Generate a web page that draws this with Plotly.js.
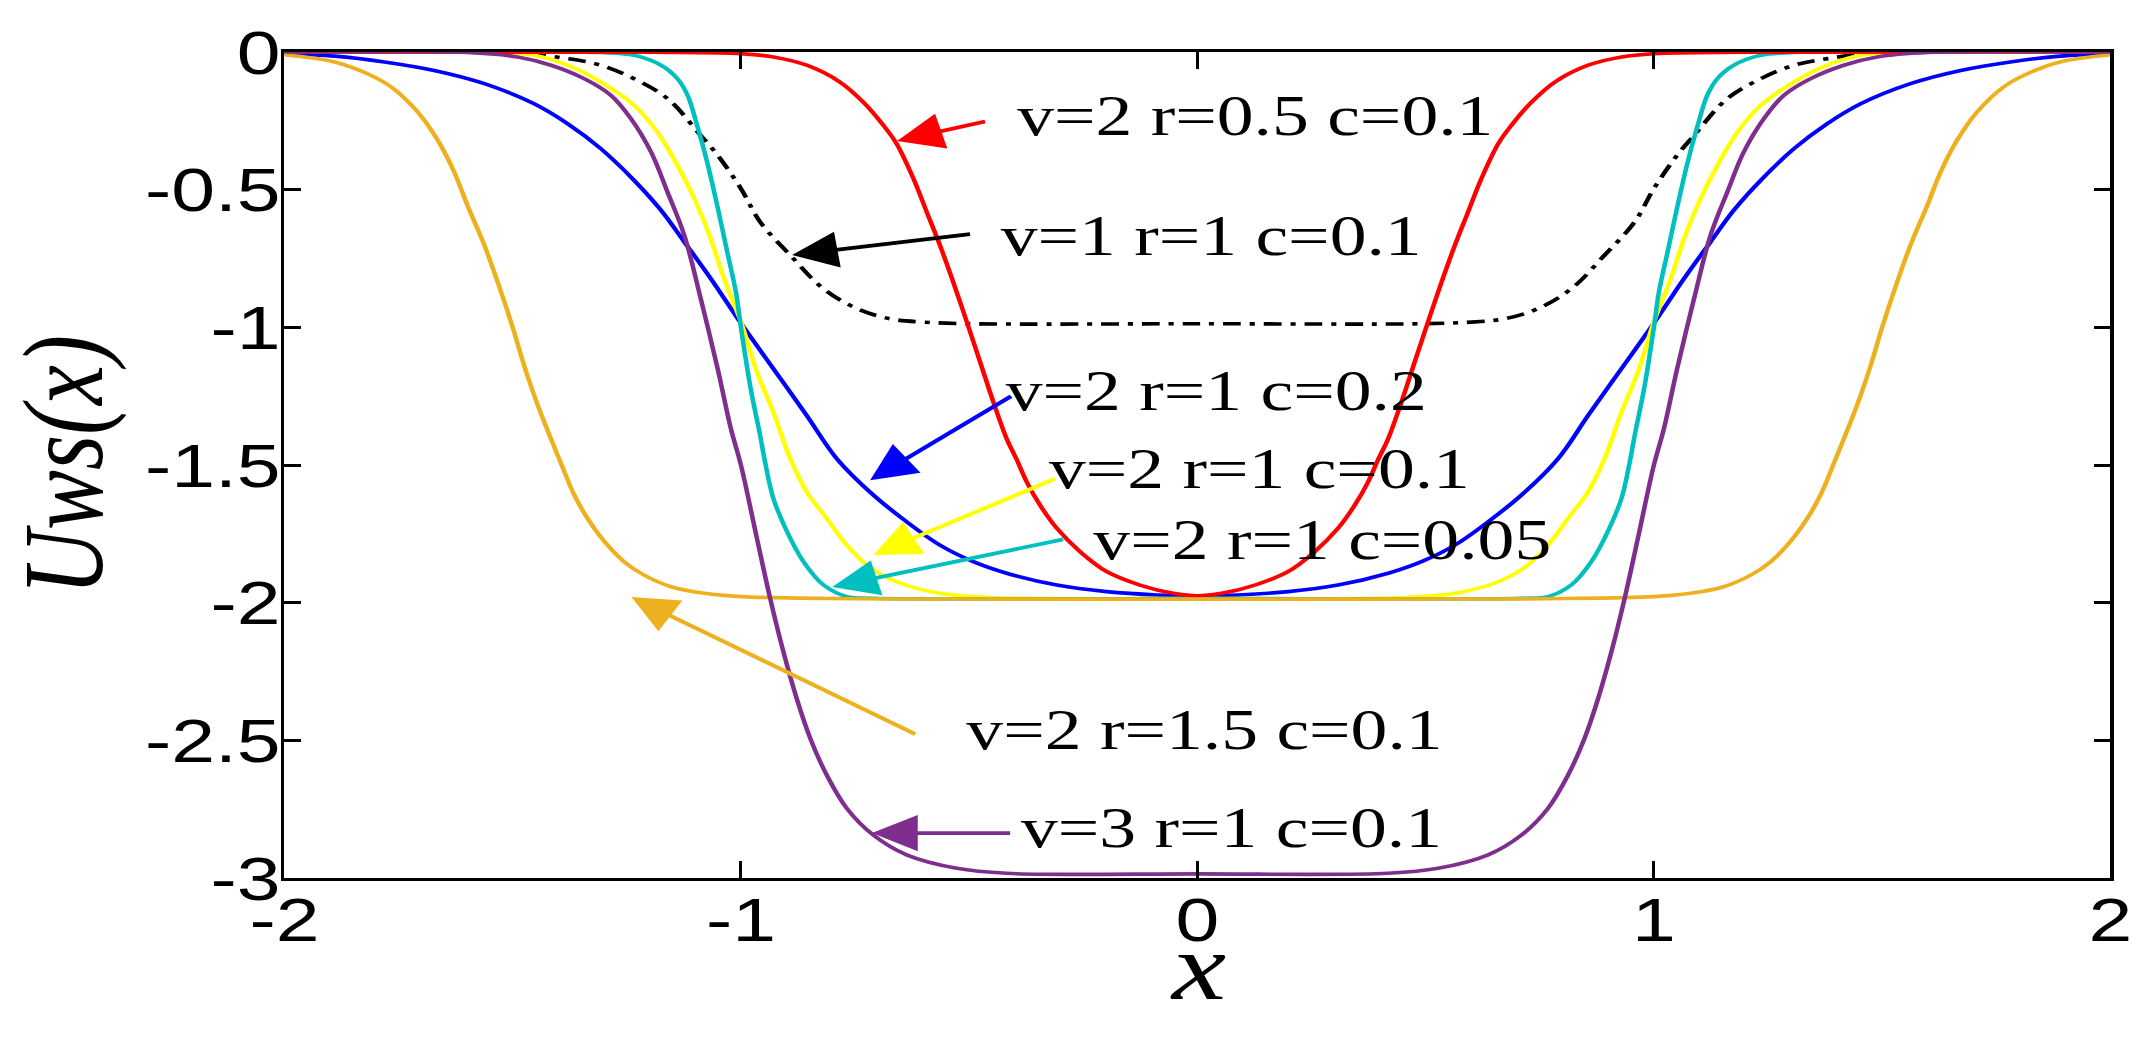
<!DOCTYPE html>
<html>
<head>
<meta charset="utf-8">
<script src="https://cdn.plot.ly/plotly-3.0.1.min.js"></script>
<style>
  html, body { margin: 0; padding: 0; background: #ffffff; }
  #wrap { width: 2151px; height: 1050px; overflow: hidden; position: relative; }
  #plot { width: 1694px; height: 1050px; transform: scaleX(1.26978); transform-origin: 0 0; }
</style>
</head>
<body>
<div id="wrap"><div id="plot"></div></div>
<script>
// ---------- data ----------
const xTickVals = [-2, -1, 0, 1, 2];
const xTickText = ['-2', '-1', '0', '1', '2'];
const yTickVals = [0, -0.5, -1, -1.5, -2, -2.5, -3];
const yTickText = ['0', '-0.5', '-1', '-1.5', '-2', '-2.5', '-3'];
const xTitle = 'x';
const yTitle = 'Uws(x)';

// v=1 r=1 c=0.1 (black dash-dot)
const blackX = [-2,-1.489,-1.38,-1.307,-1.234,-1.161,-1.088,-1.051,-1.0,-0.958,-0.892,-0.819,-0.746,-0.673,-0.6,-0.491,0,
                0.491,0.6,0.673,0.746,0.819,0.892,0.958,1.0,1.051,1.088,1.161,1.234,1.307,1.38,1.489,2];
const blackY = [0,-0.004,-0.024,-0.048,-0.097,-0.169,-0.303,-0.375,-0.496,-0.617,-0.738,-0.86,-0.932,-0.969,-0.981,-0.987,-0.987,
                -0.987,-0.981,-0.969,-0.932,-0.86,-0.738,-0.617,-0.496,-0.375,-0.303,-0.169,-0.097,-0.048,-0.024,-0.004,0];

// v=2 r=1 c=0.2 (blue)
const blueX = [-2,-1.89,-1.781,-1.672,-1.562,-1.453,-1.38,-1.307,-1.234,-1.175,-1.124,-1.066,-1.0,-0.929,-0.856,-0.79,-0.71,-0.637,-0.564,-0.491,-0.418,-0.308,-0.199,-0.089,0,
               0.089,0.199,0.308,0.418,0.491,0.564,0.637,0.71,0.79,0.856,0.929,1.0,1.066,1.124,1.175,1.234,1.307,1.38,1.453,1.562,1.672,1.781,1.89,2];
const blueY = [-0.006,-0.015,-0.036,-0.067,-0.115,-0.188,-0.26,-0.351,-0.466,-0.575,-0.69,-0.823,-0.985,-1.15,-1.32,-1.477,-1.609,-1.706,-1.791,-1.851,-1.893,-1.936,-1.96,-1.972,-1.975,
               -1.972,-1.96,-1.936,-1.893,-1.851,-1.791,-1.706,-1.609,-1.477,-1.32,-1.15,-0.985,-0.823,-0.69,-0.575,-0.466,-0.351,-0.26,-0.188,-0.115,-0.067,-0.036,-0.015,-0.006];

// v=2 r=1 c=0.1 (yellow)
const yellowX = [-2,-1.526,-1.453,-1.38,-1.307,-1.234,-1.183,-1.139,-1.102,-1.066,-1.037,-1.0,-0.965,-0.929,-0.892,-0.856,-0.812,-0.768,-0.724,-0.659,-0.564,-0.454,0,
                 0.454,0.564,0.659,0.724,0.768,0.812,0.856,0.892,0.929,0.965,1.0,1.037,1.066,1.102,1.139,1.183,1.234,1.307,1.38,1.453,1.526,2];
const yellowY = [0,-0.002,-0.012,-0.048,-0.109,-0.194,-0.291,-0.412,-0.533,-0.678,-0.823,-0.98,-1.162,-1.308,-1.477,-1.597,-1.694,-1.791,-1.863,-1.924,-1.966,-1.981,-1.985,
                 -1.981,-1.966,-1.924,-1.863,-1.791,-1.694,-1.597,-1.477,-1.308,-1.162,-0.98,-0.823,-0.678,-0.533,-0.412,-0.291,-0.194,-0.109,-0.048,-0.012,-0.002,0];

// v=2 r=1 c=0.05 (cyan)
const cyanX = [-2,-1.307,-1.234,-1.175,-1.139,-1.117,-1.096,-1.074,-1.052,-1.03,-1.011,-1.0,-0.98,-0.958,-0.947,-0.929,-0.899,-0.863,-0.819,-0.768,-0.71,0,
               0.71,0.768,0.819,0.863,0.899,0.929,0.947,0.958,0.98,1.0,1.011,1.03,1.052,1.074,1.096,1.117,1.139,1.175,1.234,1.307,2];
const cyanY = [0,-0.002,-0.012,-0.048,-0.097,-0.157,-0.266,-0.4,-0.557,-0.726,-0.872,-1.0,-1.21,-1.392,-1.49,-1.621,-1.742,-1.851,-1.936,-1.978,-1.984,-1.985,
               -1.984,-1.978,-1.936,-1.851,-1.742,-1.621,-1.49,-1.392,-1.21,-1.0,-0.872,-0.726,-0.557,-0.4,-0.266,-0.157,-0.097,-0.048,-0.012,-0.002,0];

// v=2 r=0.5 c=0.1 (red)
const redX = [-2,-1.2,-1.0,-0.929,-0.856,-0.783,-0.732,-0.688,-0.659,-0.622,-0.593,-0.564,-0.535,-0.505,-0.476,-0.447,-0.418,-0.396,-0.374,-0.345,-0.308,-0.257,-0.199,-0.126,-0.053,0,
              0.053,0.126,0.199,0.257,0.308,0.345,0.374,0.396,0.418,0.447,0.476,0.505,0.535,0.564,0.593,0.622,0.659,0.688,0.732,0.783,0.856,0.929,1.0,1.2,2];
const redY = [0,-0.001,-0.006,-0.018,-0.048,-0.109,-0.182,-0.266,-0.333,-0.46,-0.581,-0.702,-0.835,-0.981,-1.126,-1.271,-1.404,-1.48,-1.561,-1.645,-1.73,-1.815,-1.887,-1.936,-1.966,-1.975,
              -1.966,-1.936,-1.887,-1.815,-1.73,-1.645,-1.561,-1.48,-1.404,-1.271,-1.126,-0.981,-0.835,-0.702,-0.581,-0.46,-0.333,-0.266,-0.182,-0.109,-0.048,-0.018,-0.006,-0.001,0];

// v=2 r=1.5 c=0.1 (orange)
const orangeX = [-2,-1.89,-1.818,-1.766,-1.708,-1.664,-1.628,-1.599,-1.562,-1.533,-1.5,-1.475,-1.445,-1.394,-1.365,-1.336,-1.299,-1.256,-1.212,-1.153,-1.08,-1.0,-0.8,-0.4,0,
                 0.4,0.8,1.0,1.08,1.153,1.212,1.256,1.299,1.336,1.365,1.394,1.445,1.475,1.5,1.533,1.562,1.599,1.628,1.664,1.708,1.766,1.818,1.89,2];
const orangeY = [-0.01,-0.036,-0.079,-0.127,-0.218,-0.321,-0.436,-0.557,-0.702,-0.835,-1.0,-1.138,-1.283,-1.495,-1.609,-1.694,-1.778,-1.851,-1.9,-1.942,-1.966,-1.978,-1.985,-1.987,-1.987,
                 -1.987,-1.985,-1.978,-1.966,-1.942,-1.9,-1.851,-1.778,-1.694,-1.609,-1.495,-1.283,-1.138,-1.0,-0.835,-0.702,-0.557,-0.436,-0.321,-0.218,-0.127,-0.079,-0.036,-0.01];

// v=3 r=1 c=0.1 (purple)
const purpleX = [-2,-1.6,-1.489,-1.416,-1.343,-1.285,-1.241,-1.197,-1.161,-1.124,-1.088,-1.051,-1.022,-1.0,-0.965,-0.936,-0.907,-0.878,-0.848,-0.812,-0.768,-0.71,-0.637,-0.527,-0.418,0,
                 0.418,0.527,0.637,0.71,0.768,0.812,0.848,0.878,0.907,0.936,0.965,1.0,1.022,1.051,1.088,1.124,1.161,1.197,1.241,1.285,1.343,1.416,1.489,1.6,2];
const purpleY = [0,-0.002,-0.018,-0.048,-0.097,-0.157,-0.242,-0.363,-0.508,-0.666,-0.896,-1.15,-1.368,-1.5,-1.766,-1.984,-2.178,-2.347,-2.493,-2.626,-2.747,-2.844,-2.916,-2.965,-2.983,-2.985,
                 -2.983,-2.965,-2.916,-2.844,-2.747,-2.626,-2.493,-2.347,-2.178,-1.984,-1.766,-1.5,-1.368,-1.15,-0.896,-0.666,-0.508,-0.363,-0.242,-0.157,-0.097,-0.048,-0.018,-0.002,0];

const labels = ['v=2 r=0.5 c=0.1', 'v=1 r=1 c=0.1', 'v=2 r=1 c=0.2', 'v=2 r=1 c=0.1',
                'v=2 r=1 c=0.05', 'v=2 r=1.5 c=0.1', 'v=3 r=1 c=0.1'];

// ---------- styles ----------
const C = {red:'#ff0000', black:'#000000', blue:'#0000ff', yellow:'#ffff00',
           cyan:'#00bfbf', orange:'#edb120', purple:'#7e2f8e'};

function line(x, y, color, name, dash) {
  return {x: x, y: y, type: 'scatter', mode: 'lines', name: name,
          line: {color: color, width: 3.6, shape: 'spline', smoothing: 1, dash: dash || 'solid'},
          hoverinfo: 'skip'};
}

const traces = [
  line(blackX, blackY, C.black, labels[1], '14px,7px,4px,7px'),
  line(blueX, blueY, C.blue, labels[2]),
  line(yellowX, yellowY, C.yellow, labels[3]),
  line(cyanX, cyanY, C.cyan, labels[4]),
  line(redX, redY, C.red, labels[0]),
  line(orangeX, orangeY, C.orange, labels[5]),
  line(purpleX, purpleY, C.purple, labels[6])
];

const serif = '"Liberation Serif", "Times New Roman", serif';
const textFont = {family: serif, size: 58, color: '#000000'};

function label(txt, x, y) {
  return {text: txt, x: x, y: y, xref: 'x', yref: 'y', xanchor: 'left', yanchor: 'middle',
          showarrow: false, font: textFont};
}
function arrow(color, hx, hy, tx, ty) {
  return {text: '', x: hx, y: hy, ax: tx, ay: ty, xref: 'x', yref: 'y', axref: 'x', ayref: 'y',
          showarrow: true, arrowhead: 2, arrowsize: 1.9, arrowwidth: 3.8, arrowcolor: color,
          standoff: 0, startstandoff: 0};
}

const annotations = [
  arrow(C.red, -0.658, -0.323, -0.461, -0.251),
  arrow(C.black, -0.888, -0.737, -0.494, -0.661),
  arrow(C.blue, -0.717, -1.555, -0.404, -1.246),
  arrow(C.yellow, -0.710, -1.827, -0.308, -1.547),
  arrow(C.cyan, -0.800, -1.943, -0.290, -1.769),
  arrow(C.orange, -1.240, -1.979, -0.614, -2.481),
  arrow(C.purple, -0.713, -2.837, -0.406, -2.837),
  label(labels[0], -0.400, -0.229),
  label(labels[1], -0.437, -0.668),
  label(labels[2], -0.426, -1.231),
  label(labels[3], -0.330, -1.511),
  label(labels[4], -0.235, -1.772),
  label(labels[5], -0.513, -2.462),
  label(labels[6], -0.393, -2.818),
  // x-axis title, placed just under the tick labels
  {text: xTitle, x: 0.5, y: -0.107, xref: 'paper', yref: 'paper', xanchor: 'center', yanchor: 'middle',
   showarrow: false, font: {family: serif, size: 96, style: 'italic', color: '#000000'}}
];

const tickFont = {family: '"Liberation Sans", Arial, sans-serif', size: 62, color: '#000000'};

const layout = {
  width: 1694, height: 1050,
  margin: {l: 223.7, r: 31.5, t: 52, b: 172, pad: 0},
  paper_bgcolor: '#ffffff', plot_bgcolor: '#ffffff',
  showlegend: false,
  xaxis: {
    range: [-2, 2], tickmode: 'array', tickvals: xTickVals, ticktext: xTickText,
    ticks: 'inside', ticklen: 17, tickwidth: 2.4, tickcolor: '#000000',
    ticklabelstandoff: -14,
    showline: true, linewidth: 3, linecolor: '#000000', mirror: 'ticks',
    showgrid: false, zeroline: false, tickfont: tickFont, automargin: false
  },
  yaxis: {
    range: [-3, 0], tickmode: 'array', tickvals: yTickVals, ticktext: yTickText,
    ticks: 'inside', ticklen: 13, tickwidth: 3, tickcolor: '#000000',
    ticklabelstandoff: -12,
    showline: true, linewidth: 2.6, linecolor: '#000000', mirror: 'ticks',
    showgrid: false, zeroline: false, tickfont: tickFont, automargin: false,
    title: {text: yTitle, font: {family: serif, size: 90, style: 'italic', color: '#000000'}, standoff: 14}
  },
  annotations: annotations
};

Plotly.newPlot('plot', traces, layout, {displayModeBar: false, staticPlot: true});
</script>
</body>
</html>
